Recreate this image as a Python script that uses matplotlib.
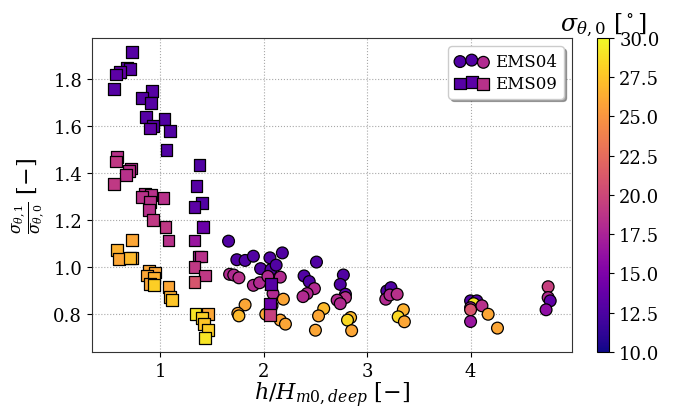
import numpy as np
import matplotlib
matplotlib.use("Agg")
import matplotlib.pyplot as plt

plt.rcParams["font.family"] = ["DejaVu Serif"]
plt.rcParams["mathtext.fontset"] = "dejavuserif"

# EMS04 (circles): relative depth, spreading ratio, offshore spreading [deg]
ems04_x = [1.66, 1.74, 1.67, 1.82, 1.90, 2.06, 2.18, 1.97, 2.07, 2.12, 2.51, 2.39, 2.44,
           2.77, 2.74, 2.79, 1.71, 1.76, 1.90, 1.96, 2.04, 2.16, 2.09, 2.49, 2.42, 2.38,
           2.79, 2.71, 2.74, 1.82, 1.75, 1.76, 2.19, 2.08, 2.02, 2.16, 2.21, 2.58, 2.53,
           2.50, 2.84, 2.81, 2.85, 3.19, 3.23, 3.18, 3.22, 3.29, 3.35, 3.30, 3.36, 4.00,
           4.06, 4.03, 4.00, 4.00, 4.11, 4.17, 4.00, 4.26, 4.75, 4.75, 4.77, 4.73]
ems04_y = [1.111, 1.032, 0.970, 1.029, 1.047, 1.040, 1.061, 0.994, 0.990, 1.009, 1.022, 0.963, 0.939,
           0.967, 0.927, 0.885, 0.967, 0.955, 0.923, 0.934, 0.961, 0.958, 0.888, 0.909, 0.888, 0.875,
           0.871, 0.860, 0.845, 0.840, 0.804, 0.793, 0.864, 0.836, 0.800, 0.775, 0.758, 0.824, 0.793,
           0.732, 0.786, 0.775, 0.730, 0.899, 0.913, 0.864, 0.882, 0.885, 0.819, 0.789, 0.768, 0.857,
           0.857, 0.845, 0.828, 0.819, 0.836, 0.800, 0.769, 0.741, 0.917, 0.871, 0.857, 0.819]
ems04_c = [12.8, 12.8, 18.0, 12.8, 12.8, 12.8, 12.8, 12.8, 12.8, 12.8, 12.8, 12.8, 12.8,
           12.8, 12.8, 13.5, 18.0, 18.5, 18.0, 18.0, 18.0, 18.0, 18.0, 18.0, 18.0, 18.0,
           18.5, 18.0, 18.0, 26.0, 26.0, 27.0, 26.0, 26.0, 26.0, 26.0, 26.0, 27.0, 26.0,
           26.0, 27.0, 28.5, 26.0, 12.8, 12.8, 18.0, 18.0, 18.5, 26.5, 28.5, 26.0, 12.8,
           12.8, 29.0, 17.0, 21.0, 18.5, 26.0, 16.5, 26.0, 19.5, 18.0, 13.5, 16.0]

# EMS09 (squares)
ems09_x = [0.73, 0.68, 0.58, 0.71, 0.61, 0.57, 0.55, 0.92, 0.82, 0.91, 0.86, 1.04, 0.93,
           0.90, 1.09, 1.06, 1.38, 1.35, 1.40, 1.33, 1.41, 1.33, 1.37, 1.39, 1.33, 1.43,
           1.33, 1.34, 1.46, 1.40, 1.42, 1.46, 1.43, 0.57, 0.72, 0.70, 0.67, 0.55, 0.85,
           0.91, 0.82, 1.03, 0.90, 0.89, 0.93, 1.05, 1.08, 0.73, 0.58, 0.60, 0.73, 0.71,
           0.89, 0.95, 0.87, 0.94, 0.90, 0.94, 1.08, 1.09, 1.11, 2.07, 2.06, 2.06]
ems09_y = [1.915, 1.848, 1.468, 1.842, 1.830, 1.820, 1.758, 1.750, 1.720, 1.700, 1.640, 1.630, 1.600,
           1.590, 1.580, 1.500, 1.436, 1.347, 1.273, 1.255, 1.170, 1.114, 1.046, 1.046, 1.000, 0.965,
           0.936, 0.800, 0.800, 0.783, 0.758, 0.732, 0.700, 1.450, 1.420, 1.410, 1.393, 1.354, 1.314,
           1.306, 1.300, 1.295, 1.278, 1.244, 1.200, 1.170, 1.114, 1.117, 1.073, 1.035, 1.040, 1.040,
           0.986, 0.978, 0.965, 0.953, 0.930, 0.925, 0.916, 0.874, 0.862, 0.927, 0.842, 0.796]
ems09_c = [13.0, 13.3, 18.5, 13.0, 13.7, 13.3, 13.0, 13.0, 13.0, 13.0, 13.0, 12.8, 13.0,
           13.5, 12.8, 12.8, 12.8, 13.0, 12.8, 13.3, 14.0, 16.5, 17.5, 18.5, 19.0, 19.0,
           21.0, 29.0, 26.0, 28.0, 27.5, 28.0, 29.0, 19.0, 18.0, 18.5, 18.5, 19.0, 18.5,
           18.5, 18.5, 18.5, 18.5, 18.5, 19.0, 19.0, 18.5, 26.0, 26.5, 26.0, 26.0, 27.0,
           26.0, 26.0, 26.0, 26.5, 26.0, 28.0, 26.0, 26.5, 27.5, 13.0, 14.0, 19.5]

fig = plt.figure(figsize=(6.81, 4.10), dpi=100)
ax = fig.add_axes([0.135, 0.139, 0.705, 0.766])

kw = dict(cmap="plasma", vmin=10, vmax=30, s=72, edgecolors="black", linewidths=0.9)
sc = ax.scatter(ems04_x, ems04_y, c=ems04_c, marker="o", label="EMS04", **kw)
ax.scatter(ems09_x, ems09_y, c=ems09_c, marker="s", label="EMS09", **kw)

ax.grid(True, linestyle=":", color="#a8a8a8", linewidth=0.8)
ax.set_axisbelow(True)
ax.set_xticks([1, 2, 3, 4])
ax.set_yticks([0.8, 1.0, 1.2, 1.4, 1.6, 1.8])
ax.tick_params(labelsize=13)
for sp in ax.spines.values():
    sp.set_color("#333333")

ax.set_xlabel(r"$h/H_{m0,deep}$ $[-]$", fontsize=16, labelpad=0)
ax.set_ylabel(r"$\frac{\sigma_{\theta,1}}{\sigma_{\theta,0}}$ $[-]$", fontsize=16, labelpad=4)

ax.legend(loc="upper right", scatterpoints=3, shadow=True, fontsize=12,
          handletextpad=0.4, borderpad=0.4, labelspacing=0.3, handlelength=2.0)

cax = fig.add_axes([0.877, 0.139, 0.018, 0.766])
cbar = fig.colorbar(sc, cax=cax, ticks=np.arange(10, 30.1, 2.5), format="%.1f")
cbar.ax.tick_params(labelsize=13)
cax.set_title(r"$\sigma_{\theta,0}$ $[^\circ]$", fontsize=17, pad=6)

fig.savefig("out.png", dpi=100)
